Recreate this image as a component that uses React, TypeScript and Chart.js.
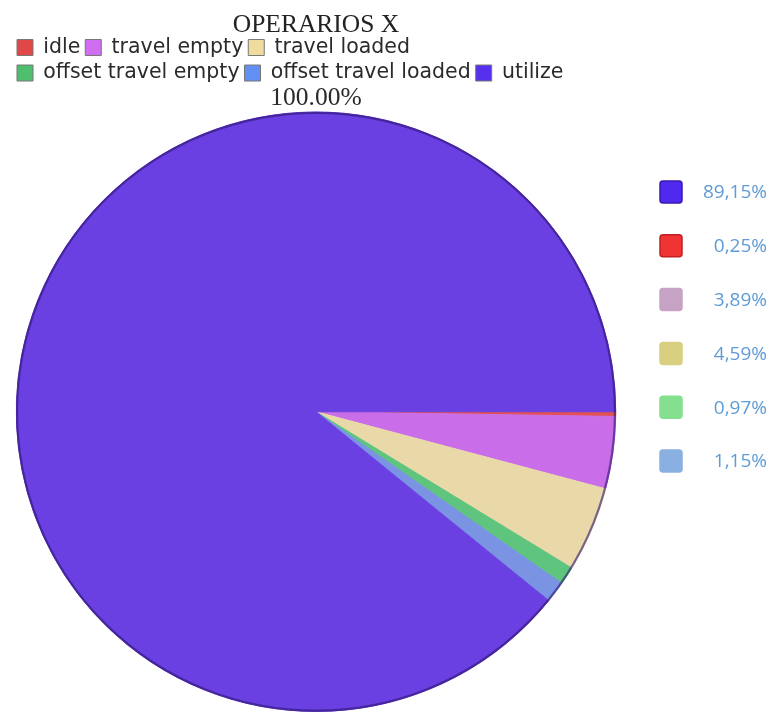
import React, { useEffect, useRef } from 'react';
import { Chart, registerables } from 'chart.js';

Chart.register(...registerables);

// ---- data ----
const chartTitle = 'OPERARIOS X';
const totalLabel = '100.00%';
const categories = ['idle', 'travel empty', 'travel loaded', 'offset travel empty', 'offset travel loaded', 'utilize'];
const shares = [0.25, 3.89, 4.59, 0.97, 1.15, 89.15];
const sliceColors = ['#e35252', '#c96ee8', '#e9d9a9', '#5ec47e', '#7a94e3', '#6a40e2'];
const legendColors = ['#e04848', '#d06ef2', '#f0dc9e', '#4fbf6e', '#6290f2', '#5630ee'];
// right-hand list (order and its own colours)
const sideOrder = [5, 0, 1, 2, 3, 4];
const sideColors = ['#5028f0', '#f03434', '#c6a2c4', '#d8d080', '#84e08e', '#8ab0e2'];
const sideBorders = ['#3a18b0', '#c02020', '#c6a2c4', '#d8d080', '#84e08e', '#8ab0e2'];

const fmtShare = (v: number) => v.toFixed(2).replace('.', ',') + '%';

const outlinePlugin = {
  id: 'pieOutline',
  afterDatasetsDraw(chart: any) {
    const meta = chart.getDatasetMeta(0);
    const arc = meta.data[0];
    if (!arc) return;
    const ctx = chart.ctx;
    ctx.save();
    ctx.beginPath();
    ctx.arc(arc.x, arc.y, arc.outerRadius - 0.8, 0, Math.PI * 2);
    ctx.strokeStyle = 'rgba(45,20,110,0.6)';
    ctx.lineWidth = 2.2;
    ctx.stroke();
    ctx.restore();
  },
};

const sideLegendPlugin = {
  id: 'sideLegend',
  afterDraw(chart: any) {
    const ctx = chart.ctx;
    const area = chart.chartArea;
    const boxX = area.right + 40;
    const textRight = chart.width - 5;
    ctx.save();
    ctx.font = '19px "Open Sans"';
    ctx.textAlign = 'right';
    ctx.textBaseline = 'middle';
    sideOrder.forEach((idx, i) => {
      const cy = 192 + i * 53.8;
      ctx.beginPath();
      ctx.roundRect(boxX, cy - 11, 22, 22, 3);
      ctx.fillStyle = sideColors[i];
      ctx.fill();
      ctx.strokeStyle = sideBorders[i];
      ctx.lineWidth = 1.5;
      ctx.stroke();
      ctx.fillStyle = '#5f9bd6';
      ctx.fillText(fmtShare(shares[idx]), textRight, cy + 1);
    });
    ctx.restore();
  },
};

export default function App() {
  const canvasRef = useRef<HTMLCanvasElement | null>(null);

  useEffect(() => {
    if (!canvasRef.current) return;
    const chart = new Chart(canvasRef.current, {
      type: 'pie',
      data: {
        labels: categories,
        datasets: [
          {
            data: shares,
            backgroundColor: sliceColors,
            borderColor: sliceColors,
            borderWidth: 1,
          },
        ],
      },
      options: {
        animation: false,
        responsive: true,
        maintainAspectRatio: false,
        rotation: 90,
        layout: { padding: { left: 12, right: 152, top: 0, bottom: 1 } },
        plugins: {
          tooltip: { enabled: false },
          title: {
            display: true,
            text: chartTitle,
            fullSize: false,
            position: 'top',
            color: '#222',
            font: { family: '"Liberation Serif", serif', size: 25.5, weight: 'normal', lineHeight: 0.56 },
            padding: { top: 18, bottom: 0 },
          },
          legend: {
            display: true,
            position: 'top',
            align: 'start',
            fullSize: false,
            weight: 1800,
            labels: {
              color: '#2b2b2b',
              font: { family: '"DejaVu Sans"', size: 20.5 },
              boxWidth: 16,
              boxHeight: 16,
              padding: 5,
              generateLabels: (chart: any) =>
                chart.data.labels.map((lbl: string, i: number) => ({
                  text: lbl,
                  fillStyle: legendColors[i],
                  strokeStyle: '#777',
                  lineWidth: 1,
                  hidden: false,
                  index: i,
                  fontColor: '#2b2b2b',
                })),
            },
          },
          subtitle: {
            display: true,
            text: totalLabel,
            fullSize: false,
            position: 'top',
            color: '#2a2a2a',
            font: { family: '"Liberation Serif", serif', size: 25.5, weight: 'normal', lineHeight: 0.4 },
            padding: { top: 0, bottom: 8 },
          },
        },
      } as any,
      plugins: [outlinePlugin, sideLegendPlugin],
    });
    return () => chart.destroy();
  }, []);

  return (
    <div style={{ position: 'fixed', left: 0, top: 0, width: 772, height: 713, background: '#fff' }}>
      <canvas ref={canvasRef} style={{ width: 772, height: 713 }} />
    </div>
  );
}
